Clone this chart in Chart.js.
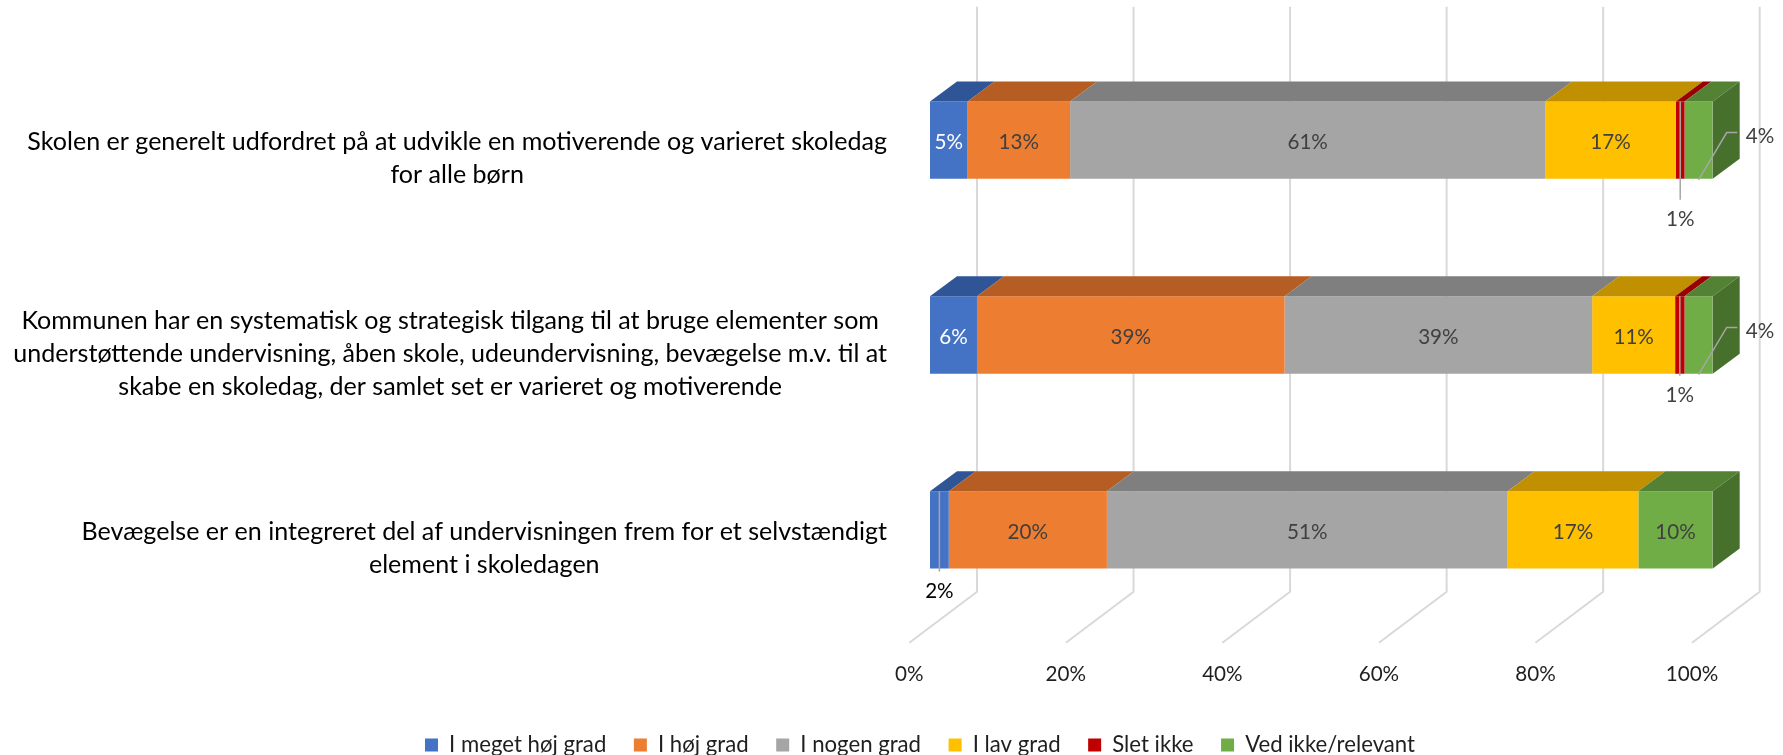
<!DOCTYPE html>
<html><head><meta charset="utf-8">
<script src="https://cdn.jsdelivr.net/npm/chart.js@4.4.1/dist/chart.umd.min.js"></script>
<style>html,body{margin:0;padding:0;background:#fff;}</style>
</head><body>
<canvas id="c" width="1783" height="755" style="width:1783px;height:755px;display:block"></canvas>
<script>
// ---------- data ----------
const categories = [
  ["Skolen er generelt udfordret på at udvikle en motiverende og varieret skoledag", "for alle børn"],
  ["Kommunen har en systematisk og strategisk tilgang til at bruge elementer som", "understøttende undervisning, åben skole, udeundervisning, bevægelse m.v. til at", "skabe en skoledag, der samlet set er varieret og motiverende"],
  ["Bevægelse er en integreret del af undervisningen frem for et selvstændigt", "element i skoledagen"]
];
const seriesNames = ["I meget høj grad", "I høj grad", "I nogen grad", "I lav grad", "Slet ikke", "Ved ikke/relevant"];
const megetHoejGrad = [4.8, 6.0, 2.4];
const hoejGrad      = [13.1, 39.3, 20.2];
const nogenGrad     = [60.7, 39.3, 51.2];
const lavGrad       = [16.7, 10.6, 16.7];
const sletIkke      = [1.1, 1.2, 0];
const vedIkke       = [3.6, 3.6, 9.5];
const xTickValues   = [0, 20, 40, 60, 80, 100];

// ---------- style ----------
const FONT = 'Lato, "Open Sans", sans-serif';
const mctx = document.createElement('canvas').getContext('2d');
function widthAt(str, size) { mctx.font = size + 'px ' + FONT; return mctx.measureText(str).width; }
// font sizes chosen so text widths match the reference (Calibri original)
const catFS = 100 * 874 / Math.max(...categories.flat().map(s => widthAt(s, 100)));
const numFS = 100 * 40.5 / widthAt('20%', 100);
const legFS = 100 * 708 / seriesNames.reduce((a, s) => a + widthAt(s, 100), 0);

const frontColors = ['#4472C4', '#ED7D31', '#A5A5A5', '#FFC000', '#C00000', '#70AD47'];
const topColors   = ['#2F5597', '#B55D22', '#7F7F7F', '#C09000', '#990000', '#548235'];
const sideColors  = ['#2F5597', '#B55D22', '#7F7F7F', '#C09000', '#990000', '#47702D'];
const depthDx = 27, depthDy = 20;        // bar depth projection
const wallDx = 47;                       // back wall offset from bar front
const floorDx = -67.7, floorDy = 51;     // floor depth projection

const seriesData = [megetHoejGrad, hoejGrad, nogenGrad, lavGrad, sletIkke, vedIkke];

const threeD = {
  id: 'threeD',
  beforeDatasetsDraw(chart) {
    const {ctx, chartArea} = chart;
    const xs = chart.scales.x;
    ctx.save();
    ctx.strokeStyle = '#D9D9D9';
    ctx.lineWidth = 2;
    const wallTop = chartArea.top - 36, wallBottom = chartArea.bottom - 35.5;
    xTickValues.forEach(v => {
      const x = xs.getPixelForValue(v) + wallDx;
      ctx.beginPath();
      ctx.moveTo(x, wallTop);
      ctx.lineTo(x, wallBottom);
      ctx.lineTo(x + floorDx, wallBottom + floorDy);
      ctx.stroke();
    });
    ctx.restore();
  },
  afterDatasetsDraw(chart) {
    const {ctx} = chart;
    ctx.save();
    const nCat = categories.length;
    for (let i = 0; i < nCat; i++) {
      let lastDs = -1;
      chart.data.datasets.forEach((d, ds) => { if (d.data[i] > 0) lastDs = ds; });
      chart.data.datasets.forEach((d, ds) => {
        if (!(d.data[i] > 0)) return;
        const el = chart.getDatasetMeta(ds).data[i];
        const p = el.getProps(['x', 'y', 'base', 'height'], true);
        const l = Math.min(p.x, p.base), r = Math.max(p.x, p.base);
        const t = p.y - p.height / 2, b = p.y + p.height / 2;
        ctx.fillStyle = topColors[ds];
        ctx.beginPath();
        ctx.moveTo(l, t); ctx.lineTo(r, t); ctx.lineTo(r + depthDx, t - depthDy); ctx.lineTo(l + depthDx, t - depthDy);
        ctx.closePath(); ctx.fill();
        if (ds === lastDs) {
          ctx.fillStyle = sideColors[ds];
          ctx.beginPath();
          ctx.moveTo(r, t); ctx.lineTo(r + depthDx, t - depthDy); ctx.lineTo(r + depthDx, b - depthDy); ctx.lineTo(r, b);
          ctx.closePath(); ctx.fill();
        }
      });
    }
    // data labels
    ctx.font = numFS + 'px ' + FONT;
    ctx.textBaseline = 'middle';
    const belowDy = [41, 22, 23];
    chart.data.datasets.forEach((d, ds) => {
      const meta = chart.getDatasetMeta(ds);
      d.data.forEach((v, i) => {
        if (!(v > 0)) return;
        const el = meta.data[i];
        const p = el.getProps(['x', 'y', 'base', 'height'], true);
        const l = Math.min(p.x, p.base), r = Math.max(p.x, p.base);
        const t = p.y - p.height / 2, b = p.y + p.height / 2;
        const cx = (l + r) / 2;
        const txt = Math.round(v) + '%';
        if (v >= 4) {
          ctx.textAlign = 'center';
          ctx.fillStyle = ds === 0 ? '#FFFFFF' : '#404040';
          ctx.fillText(txt, cx, p.y + 2);
        } else if (ds === 5) {
          ctx.strokeStyle = '#A6A6A6'; ctx.lineWidth = 1.5;
          const ey = p.y - 7.6;
          ctx.beginPath(); ctx.moveTo(cx, b + 1); ctx.lineTo(r + 14, ey); ctx.lineTo(r + 24.6, ey); ctx.stroke();
          ctx.textAlign = 'left'; ctx.fillStyle = '#404040';
          ctx.fillText(txt, r + 33, ey + 4);
        } else {
          const ly = b + belowDy[i];
          ctx.strokeStyle = '#A6A6A6'; ctx.lineWidth = 1.5;
          ctx.beginPath(); ctx.moveTo(cx, t); ctx.lineTo(cx, ly - 20); ctx.stroke();
          ctx.textAlign = 'center'; ctx.fillStyle = ds === 0 ? '#000000' : '#404040';
          ctx.fillText(txt, cx, ly);
        }
      });
    });
    ctx.restore();
  },
  afterDraw(chart) {
    // category labels: block right aligned, lines centred
    const {ctx} = chart;
    const ys = chart.scales.y;
    ctx.save();
    ctx.font = catFS + 'px ' + FONT;
    ctx.fillStyle = '#000000';
    ctx.textAlign = 'center';
    ctx.textBaseline = 'middle';
    const lh = 33, rightEdge = chart.chartArea.left - 43;
    categories.forEach((lines, i) => {
      const w = Math.max(...lines.map(s => ctx.measureText(s).width));
      const cx = rightEdge - w / 2;
      const cy = ys.getPixelForValue(i) + 18.5;
      lines.forEach((s, k) => ctx.fillText(s, cx, cy + (k - (lines.length - 1) / 2) * lh));
    });
    ctx.restore();
  }
};

const legPad = (990.4 - 708 - 6 * (13 + legFS / 2)) / 5;

new Chart(document.getElementById('c'), {
  type: 'bar',
  data: {
    labels: categories,
    datasets: seriesNames.map((name, k) => ({
      label: name,
      data: seriesData[k],
      backgroundColor: frontColors[k],
      borderWidth: 0,
      barPercentage: 0.8,
      categoryPercentage: 0.4965
    }))
  },
  options: {
    indexAxis: 'y',
    responsive: false,
    animation: false,
    devicePixelRatio: 1,
    layout: { padding: { left: 127.3, right: 70.3, top: 42.7, bottom: -11 } },
    scales: {
      x: {
        stacked: true, min: 0, max: 100,
        grid: { display: false, drawTicks: false },
        border: { display: false },
        afterBuildTicks(scale) { scale.ticks = xTickValues.map(v => ({ value: v })); },
        afterFit(scale) { scale.height = 73.5 + (33 - legPad); },
        ticks: {
          labelOffset: wallDx + floorDx,
          padding: 35,
          color: '#1F1F1F',
          font: { family: FONT, size: numFS },
          callback: v => v + '%'
        }
      },
      y: {
        stacked: true,
        grid: { display: false },
        border: { display: false },
        ticks: { display: false },
        afterFit(scale) { scale.width = 930 - 127.3; }
      }
    },
    plugins: {
      legend: {
        position: 'bottom',
        labels: {
          boxWidth: 13, boxHeight: 13, padding: legPad,
          color: '#1F1F1F',
          font: { family: FONT, size: legFS }
        }
      },
      tooltip: { enabled: false }
    }
  },
  plugins: [threeD]
});
</script>
</body></html>
